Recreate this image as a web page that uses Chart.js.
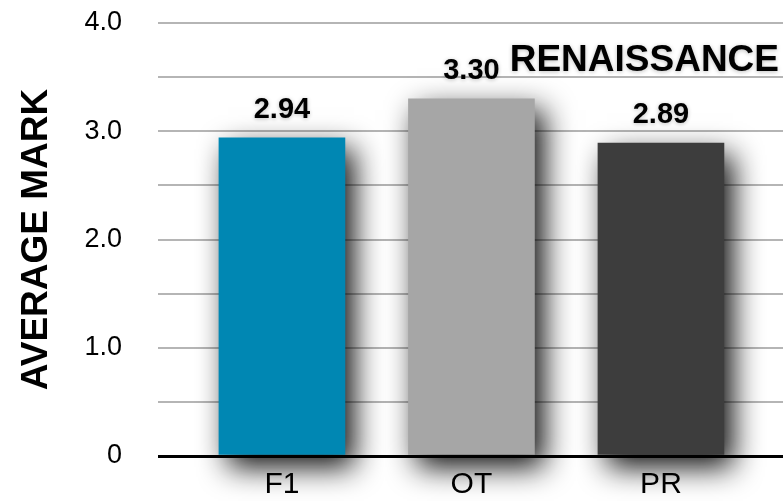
<!DOCTYPE html>
<html>
<head>
<meta charset="utf-8">
<script src="https://cdn.jsdelivr.net/npm/chart.js@4/dist/chart.umd.min.js"></script>
<style>
  html, body { margin: 0; padding: 0; background: #ffffff; }
  #wrap { width: 783px; height: 501px; position: relative; }
</style>
</head>
<body>
<div id="wrap"><canvas id="chart" width="783" height="501"></canvas></div>
<script>
// Average mark per group
const categories = ['F1', 'OT', 'PR'];
const averageMarks = [2.94, 3.30, 2.89];
const barColors = ['#0087b3', '#a6a6a6', '#3d3d3d'];
const chartTitle = 'RENAISSANCE';
const yAxisTitle = 'AVERAGE MARK';
const yTickLabels = { 0: '0', 1: '1.0', 2: '2.0', 3: '3.0', 4: '4.0' };

const FONT = "'Liberation Sans', Arial, Helvetica, sans-serif";

// Soft drop shadow behind the bars
const barShadow = {
  id: 'barShadow',
  beforeDatasetsDraw(chart) {
    const ctx = chart.ctx;
    ctx.save();
    ctx.shadowColor = 'rgba(0,0,0,0.95)';
    ctx.shadowBlur = 28;
    ctx.shadowOffsetX = 9;
    ctx.shadowOffsetY = 12;
  },
  afterDatasetsDraw(chart) {
    chart.ctx.restore();
  }
};

// Value above each bar and the heading inside the plot
const annotations = {
  id: 'annotations',
  afterDatasetsDraw(chart) {
    const ctx = chart.ctx;
    const meta = chart.getDatasetMeta(0);
    ctx.save();
    ctx.fillStyle = '#000';
    ctx.textAlign = 'center';
    ctx.textBaseline = 'alphabetic';
    ctx.shadowColor = 'rgba(0,0,0,0.25)';
    ctx.shadowBlur = 4;
    ctx.shadowOffsetY = 1;
    ctx.font = 'bold 29px ' + FONT;
    meta.data.forEach((bar, i) => {
      ctx.fillText(averageMarks[i].toFixed(2), bar.x, bar.y - 20);
    });
    ctx.font = 'bold 37px ' + FONT;
    ctx.textAlign = 'right';
    ctx.fillText(chartTitle, chart.chartArea.right - 4, chart.chartArea.top + 48);
    ctx.restore();
  }
};

new Chart(document.getElementById('chart'), {
  type: 'bar',
  data: {
    datasets: [{
      data: categories.map((c, i) => ({ x: i, y: averageMarks[i] })),
      backgroundColor: barColors,
      borderWidth: 0,
      barThickness: 126,
      clip: false
    }]
  },
  plugins: [barShadow, annotations],
  options: {
    responsive: false,
    animation: false,
    layout: { padding: { top: 23, right: 0, bottom: 0, left: 0 } },
    plugins: {
      legend: { display: false },
      tooltip: { enabled: false },
      title: { display: false }
    },
    scales: {
      x: {
        type: 'linear',
        offset: false,
        min: -0.654,
        max: 2.644,
        afterFit(scale) {
          scale.height = 45;
        },
        grid: { display: false },
        border: { display: false },
        ticks: {
          stepSize: 1,
          includeBounds: false,
          autoSkip: false,
          maxRotation: 0,
          padding: 3,
          color: '#000',
          font: { family: FONT, size: 30 },
          callback: v => (Number.isInteger(v) && categories[v] !== undefined) ? categories[v] : ''
        }
      },
      y: {
        min: 0,
        max: 4,
        afterFit(scale) {
          scale.width = 158;
          scale.paddingTop = 0; scale.paddingBottom = 0;
        },
        grid: {
          drawTicks: false,
          color: c => c.tick && c.tick.value === 0 ? '#000' : '#b5b5b5',
          lineWidth: c => c.tick && c.tick.value === 0 ? 3 : 2
        },
        border: { display: false },
        ticks: {
          stepSize: 0.5,
          padding: 36,
          color: '#000',
          font: { family: FONT, size: 27 },
          callback: v => yTickLabels[v] !== undefined ? yTickLabels[v] : ''
        },
        title: {
          display: true,
          text: yAxisTitle,
          color: '#000',
          font: { family: FONT, size: 37, weight: 'bold' },
          padding: { top: 15, bottom: 0 }
        }
      }
    }
  }
});
</script>
</body>
</html>
